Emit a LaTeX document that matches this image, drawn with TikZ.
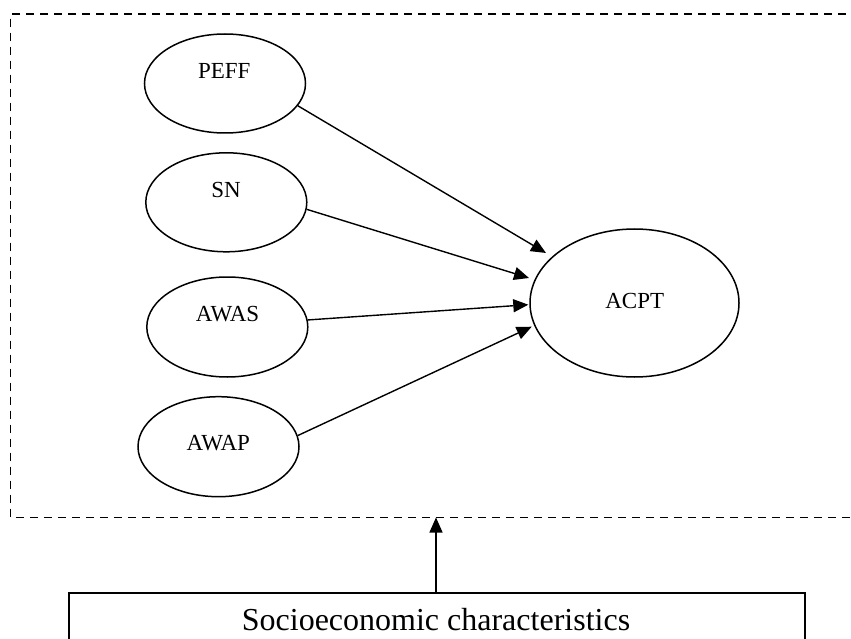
\documentclass[tikz,border=0pt]{standalone}
\usepackage{fontspec}
\setmainfont{Liberation Serif}
\usetikzlibrary{shapes.geometric,arrows.meta}
\begin{document}
\begin{tikzpicture}[x=1pt,y=-1pt,
  ell/.style={ellipse,draw,line width=1.5pt,inner sep=0pt},
  lbl/.style={anchor=base,font=\fontsize{23}{27}\selectfont,inner sep=0pt},
  arr/.style={line width=1.4pt,-{Triangle[length=15pt,width=13pt]}},
  dash box/.style={line width=1.4pt,dash pattern=on 8pt off 6pt}]
\useasboundingbox (0,0) rectangle (851,639);
% dashed frame (right side lies beyond the picture)
\draw[dash box] (860,14) -- (10.7,14) -- (10.7,517.5) -- (860,517.5);
% ellipses
\node[ell,minimum width=161pt,minimum height=99pt] (peff) at (225,83.5) {};
\node[ell,minimum width=161pt,minimum height=99pt] (sn) at (226.3,202.3) {};
\node[ell,minimum width=161pt,minimum height=100pt] (awas) at (227.3,327) {};
\node[ell,minimum width=161pt,minimum height=100pt] (awap) at (218.5,446.7) {};
\node[ell,minimum width=209pt,minimum height=148pt] (acpt) at (634.5,303) {};
% labels
\node[lbl] (peffL) at (224.3,79) {PEFF};
\node[lbl] (snL) at (226,197.3) {SN};
\node[lbl] (awasL) at (227.5,321.7) {AWAS};
\node[lbl] (awapL) at (218.3,450) {AWAP};
\node[lbl] (acptL) at (634.7,308.3) {ACPT};
% arrow tips near ACPT
\coordinate (t1) at (546,253);
\coordinate (t2) at (529,278);
\coordinate (t3) at (528.3,304.7);
\coordinate (t4) at (531.7,326.7);
\draw[arr] (peff.-17) -- (t1);
\draw[arr] (sn.-5.5) -- (t2);
\draw[arr] (awas.5) -- (t3);
\draw[arr] (awap.8.5) -- (t4);
% socioeconomic box
\node[draw,line width=1.5pt,minimum width=736pt,minimum height=60pt,inner sep=0pt,anchor=north west] (socio) at (68,592) {};
\node[anchor=base,font=\fontsize{32}{38}\selectfont,inner sep=0pt] (socioL) at (436,630) {Socioeconomic characteristics};
\coordinate (dtop) at (436,517.5);
\draw[arr] (socio.north -| dtop) -- (dtop);
\end{tikzpicture}
\end{document}
